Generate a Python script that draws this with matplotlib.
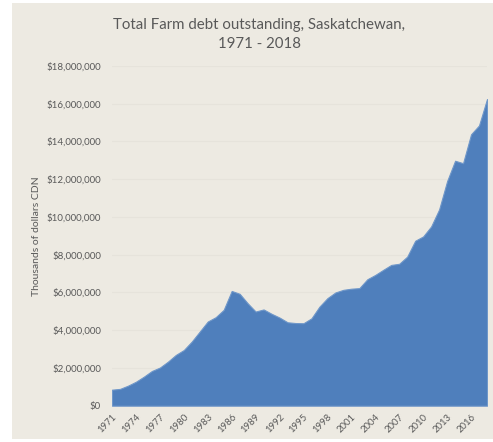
import matplotlib
matplotlib.use("Agg")
import matplotlib.pyplot as plt
from matplotlib.patches import Rectangle
from matplotlib.ticker import FuncFormatter

years = list(range(1971, 2019))
debt = [
    850000, 890000, 1060000, 1270000, 1540000, 1840000, 2020000, 2330000,
    2690000, 2950000, 3400000, 3930000, 4460000, 4690000, 5080000, 6080000,
    5930000, 5430000, 4990000, 5100000, 4870000, 4670000, 4420000, 4380000,
    4370000, 4630000, 5250000, 5700000, 6000000, 6140000, 6200000, 6230000,
    6700000, 6930000, 7200000, 7460000, 7520000, 7900000, 8740000, 8970000,
    9500000, 10400000, 11900000, 12980000, 12850000, 14380000, 14850000, 16250000,
]
tick_years = list(range(1971, 2017, 3))
title = "Total Farm debt outstanding, Saskatchewan,\n1971 - 2018"
ylabel = "Thousands of dollars CDN"

bg = "#EDEAE2"
fill = "#4F7FBC"
txt = "#595959"

plt.rcParams["font.family"] = ["Lato", "DejaVu Sans"]

fig = plt.figure(figsize=(4.93, 4.42), dpi=100)
fig.patch.set_facecolor("white")
fig.patches.append(Rectangle((12 / 493, 3 / 442), 481 / 493, 436 / 442,
                             transform=fig.transFigure, facecolor=bg,
                             edgecolor="none", zorder=-10))

ax = fig.add_axes([112 / 493, 36.3 / 442, 375 / 493, 339.7 / 442])
ax.set_facecolor("none")
ax.fill_between(years, debt, 0, color=fill, linewidth=0.8, edgecolor="#6F97C9", zorder=3)
ax.set_xlim(1971, 2018)
ax.set_ylim(0, 18000000)
ax.set_yticks(range(0, 18000001, 2000000))
ax.yaxis.set_major_formatter(FuncFormatter(lambda v, p: "${:,.0f}".format(v)))
ax.grid(axis="y", color="#E6E3DB", linewidth=0.8, zorder=1)
ax.set_xticks(tick_years)
ax.set_xticklabels([str(y) for y in tick_years], rotation=45, ha="right",
                   rotation_mode="anchor", fontsize=6.8, color=txt)
for s in ax.spines.values():
    s.set_visible(False)
ax.tick_params(axis="both", length=0, labelcolor=txt)
ax.tick_params(axis="y", pad=8, labelsize=7)
ax.tick_params(axis="x", pad=5)
ax.set_ylabel(ylabel, fontsize=7.5, color=txt, labelpad=4)

fig.text(259 / 493, 1 - 34.5 / 442, title, ha="center", va="center",
         fontsize=10.8, color=txt, linespacing=1.4)

fig.savefig("out.png", dpi=100, facecolor=fig.get_facecolor())
